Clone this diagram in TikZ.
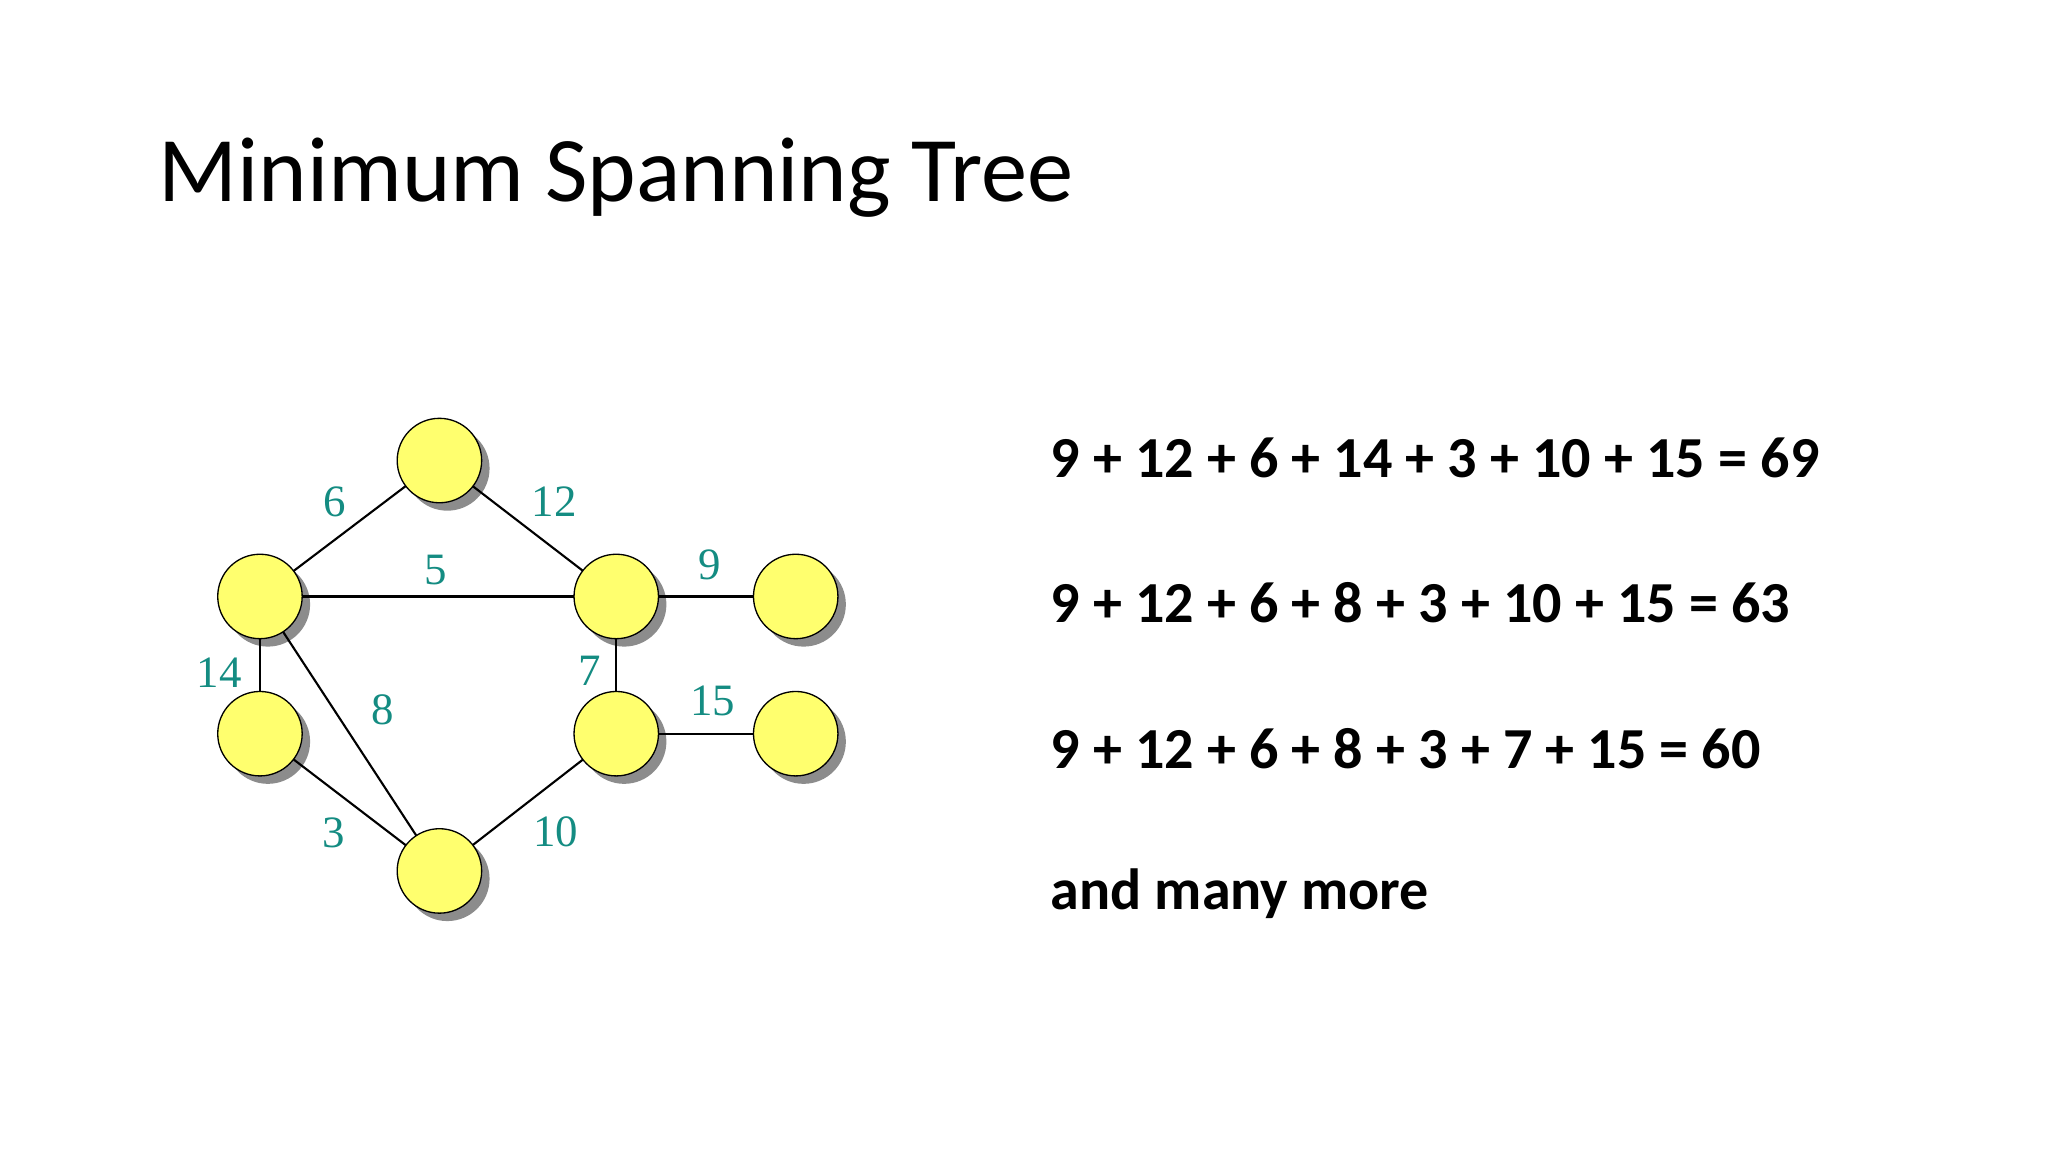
\documentclass[tikz,border=0pt]{standalone}
\usepackage{fontspec}
\setmainfont{Carlito}
\newfontfamily\serifnum{Liberation Serif}
\definecolor{teal2}{RGB}{20,140,130}
\definecolor{nodey}{RGB}{255,255,110}
\begin{document}
\begin{tikzpicture}[x=1pt,y=-1pt,
  vert/.style={circle,draw=black,line width=1pt,fill=nodey,minimum size=64pt,inner sep=0pt},
  shad/.style={circle,fill=black!45,minimum size=64pt,inner sep=0pt},
  edge/.style={line width=1.6pt},
  wlab/.style={text=teal2,font=\serifnum\fontsize{34}{34}\selectfont,inner sep=0pt},
  eq/.style={anchor=west,font=\bfseries\fontsize{44}{44}\selectfont,inner sep=0pt}]
\useasboundingbox[fill=white] (0,0) rectangle (1552,873);
\node[anchor=base west,font=\fontsize{70}{70}\selectfont,inner sep=0pt] (title) at (120,153) {Minimum Spanning Tree};
\foreach \n/\x/\y in {t/333/349,l/197/452,m/467/452,r/603/452,ll/197/556,mm/467/556,rr/603/556,b/333/660}{
  \node[shad] at (\x+6,\y+6) {};
}
\draw[edge] (333,349) coordinate (ct) -- (197,452) coordinate (cl);
\draw[edge] (ct) -- (467,452) coordinate (cm);
\draw[edge] (cl) -- (cm);
\draw[edge] (cm) -- (603,452) coordinate (cr);
\draw[edge] (cl) -- (197,556) coordinate (cll);
\draw[edge] (cl) -- (333,660) coordinate (cb);
\draw[edge] (cm) -- (467,556) coordinate (cmm);
\draw[edge] (cmm) -- (603,556) coordinate (crr);
\draw[edge] (cll) -- (cb);
\draw[edge] (cb) -- (cmm);
\foreach \n in {t,l,m,r,ll,mm,rr,b}{ \node[vert] (\n) at (c\n) {}; }
\node[wlab] (w6) at (254,380) {6};
\node[wlab] (w12) at (420,380) {12};
\node[wlab] (w5) at (330,432) {5};
\node[wlab] (w9) at (538,428) {9};
\node[wlab] (w14) at (166,510) {14};
\node[wlab] (w8) at (290,538) {8};
\node[wlab] (w7) at (447,508) {7};
\node[wlab] (w15) at (540,531) {15};
\node[wlab] (w3) at (253,631) {3};
\node[wlab] (w10) at (421,630) {10};
\node[eq] (e1) at (796,347) {9 + 12 + 6 + 14 + 3 + 10 + 15 = 69};
\node[eq] (e2) at (796,457) {9 + 12 + 6 + 8 + 3 + 10 + 15 = 63};
\node[eq] (e3) at (796,567) {9 + 12 + 6 + 8 + 3 + 7 + 15 = 60};
\node[eq] (e4) at (796,677) {and many more};
\end{tikzpicture}
\end{document}
